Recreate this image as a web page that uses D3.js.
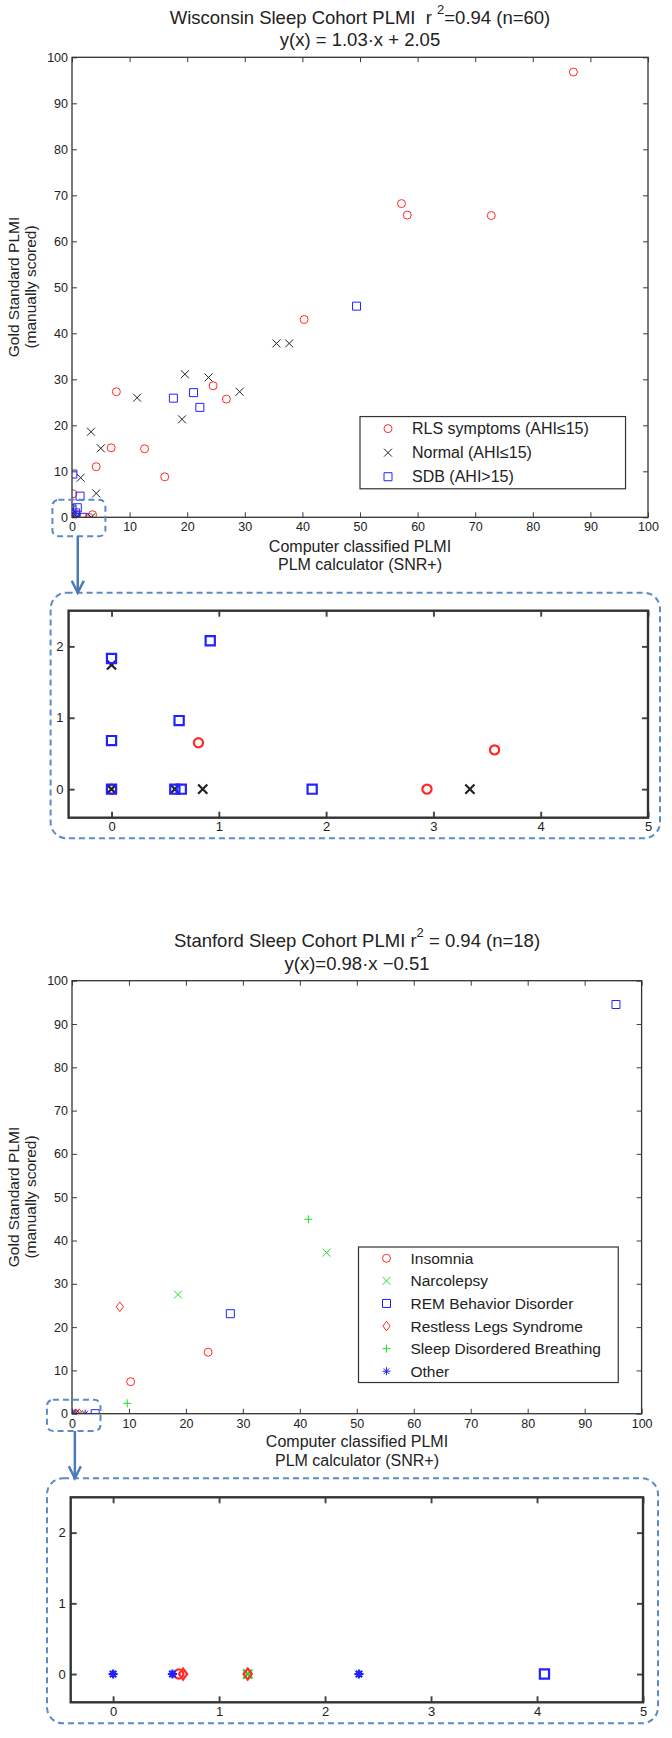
<!DOCTYPE html>
<html>
<head>
<meta charset="utf-8">
<script src="https://cdn.jsdelivr.net/npm/d3@7"></script>
<style>
body { margin: 0; background: #fff; }
svg { display: block; }
text { font-family: "Liberation Sans", Arial, sans-serif; fill: #222; }
</style>
</head>
<body>
<div id="chart"></div>
<script>
// Wisconsin cohort: [computer classified PLMI, gold standard PLMI]
var wiscRls = [[87.05, 96.8], [57.2, 68.2], [58.2, 65.7], [72.8, 65.6], [40.3, 43.0], [24.5, 28.6],
    [26.8, 25.7], [7.7, 27.3], [6.8, 15.1], [12.6, 14.9], [4.2, 11.0], [16.1, 8.8], [0.15, 5.1],
    [0.81, 0.65], [2.94, 0], [3.57, 0.55], [0, 0]];
var wiscNormal = [[35.5, 37.8], [37.7, 37.8], [19.6, 31.1], [23.7, 30.4], [29.1, 27.3], [11.3, 26.0],
    [19.1, 21.3], [3.3, 18.6], [5.0, 15.0], [1.5, 8.6], [4.2, 5.2],
    [0, 1.74], [0, 0], [0.59, 0], [0.85, 0], [3.34, 0]];
var wiscSdb = [[49.4, 45.9], [17.6, 25.9], [21.1, 27.1], [22.2, 23.9], [0.15, 9.4], [1.4, 4.6],
    [0, 1.83], [0.92, 2.08], [0.63, 0.96], [0, 0.68], [0, 0], [0.59, 0], [0.65, 0], [1.87, 0]];

// Stanford cohort
var stanInsomnia = [[23.9, 14.2], [10.3, 7.4], [0.62, 0]];
var stanNarcolepsy = [[44.7, 37.2], [18.6, 27.5], [1.27, 0]];
var stanRbd = [[95.5, 94.5], [27.8, 23.1], [4.07, 0]];
var stanRls = [[8.4, 24.7], [0.66, 0], [1.27, 0]];
var stanSdb = [[41.5, 44.9], [9.7, 2.4]];
var stanOther = [[0, 0], [0.56, 0], [2.32, 0]];

var wiscLabels = ["RLS symptoms (AHI\u226415)", "Normal (AHI\u226415)", "SDB (AHI>15)"];
var stanLabels = ["Insomnia", "Narcolepsy", "REM Behavior Disorder", "Restless Legs Syndrome",
    "Sleep Disordered Breathing", "Other"];

var mainTicks = [0, 10, 20, 30, 40, 50, 60, 70, 80, 90, 100];
var zoomXTicks = [0, 1, 2, 3, 4, 5];
var zoomYTicks = [0, 1, 2];

var W = 672, H = 1738;
var svg = d3.select("#chart").append("svg").attr("width", W).attr("height", H);

var RED = "#ff2a2a", BLUE = "#2222ff", BLACK = "#222", GREEN = "#22dd22", BOX = "#5b8bc8";

function markerPath(shape, s) {
    switch (shape) {
        case "x": return "M" + -s + "," + -s + "L" + s + "," + s + "M" + -s + "," + s + "L" + s + "," + -s;
        case "plus": return "M" + -s + ",0L" + s + ",0M0," + -s + "L0," + s;
        case "diamond": return "M0," + -s * 1.2 + "L" + s * 0.9 + ",0L0," + s * 1.2 + "L" + -s * 0.9 + ",0Z";
        case "square": return "M" + -s + "," + -s + "H" + s + "V" + s + "H" + -s + "Z";
        case "star":
            var d = s * 0.7;
            return "M" + -s + ",0L" + s + ",0M0," + -s + "L0," + s +
                "M" + -d + "," + -d + "L" + d + "," + d + "M" + -d + "," + d + "L" + d + "," + -d;
        default: // circle
            return "M" + s + ",0A" + s + "," + s + " 0 1,1 " + -s + ",0A" + s + "," + s + " 0 1,1 " + s + ",0Z";
    }
}

function drawMarkers(g, data, x, y, shape, color, size, sw) {
    g.selectAll(null).data(data).enter().append("path")
        .attr("transform", function(d) { return "translate(" + x(d[0]) + "," + y(d[1]) + ")"; })
        .attr("d", markerPath(shape, size))
        .attr("fill", "none")
        .attr("stroke", color)
        .attr("stroke-width", sw);
}

var clipId = 0;
function panel(p) {
    var x = d3.scaleLinear().domain(p.xd).range([p.left, p.right]);
    var y = d3.scaleLinear().domain(p.yd).range([p.bottom, p.top]);
    var g = svg.append("g");
    var tl = p.tick, fs = p.fontSize;

    var bottom = g.append("g").attr("transform", "translate(0," + p.bottom + ")")
        .call(d3.axisBottom(x).tickValues(p.xt).tickSize(-tl).tickPadding(p.xpad).tickFormat(d3.format("d")));
    var top = g.append("g").attr("transform", "translate(0," + p.top + ")")
        .call(d3.axisTop(x).tickValues(p.xt).tickSize(-tl).tickFormat(""));
    var left = g.append("g").attr("transform", "translate(" + p.left + ",0)")
        .call(d3.axisLeft(y).tickValues(p.yt).tickSize(-tl).tickPadding(p.ypad).tickFormat(d3.format("d")));
    var right = g.append("g").attr("transform", "translate(" + p.right + ",0)")
        .call(d3.axisRight(y).tickValues(p.yt).tickSize(-tl).tickFormat(""));
    [bottom, top, left, right].forEach(function(a) {
        a.select(".domain").remove();
        a.selectAll("line").attr("stroke", "#444").attr("stroke-width", p.frameW * 0.8);
        a.selectAll("text").attr("fill", "#222").style("font-size", fs + "px")
            .style("font-family", "'Liberation Sans', Arial, sans-serif");
    });

    var cid = "clip" + (clipId++);
    g.append("clipPath").attr("id", cid).append("rect")
        .attr("x", p.left).attr("y", p.top)
        .attr("width", p.right - p.left).attr("height", p.bottom - p.top);
    var marks = g.append("g").attr("clip-path", "url(#" + cid + ")");
    p.series.forEach(function(s) {
        drawMarkers(marks, s.data, x, y, s.shape, s.color, p.msize, p.msw);
    });

    g.append("rect").attr("x", p.left).attr("y", p.top)
        .attr("width", p.right - p.left).attr("height", p.bottom - p.top)
        .attr("fill", "none").attr("stroke", "#333").attr("stroke-width", p.frameW);
    return {g: g, x: x, y: y};
}

function titleLines(cx, y1, y2, pre, post, line2) {
    var t = svg.append("text").attr("x", cx).attr("y", y1)
        .attr("text-anchor", "middle").attr("dominant-baseline", "central")
        .style("font-size", "18.5px").style("white-space", "pre");
    t.append("tspan").text(pre);
    t.append("tspan").attr("dy", -8).style("font-size", "13px").text("2");
    t.append("tspan").attr("dy", 8).text(post);
    svg.append("text").attr("x", cx).attr("y", y2)
        .attr("text-anchor", "middle").attr("dominant-baseline", "central")
        .style("font-size", "18.5px").text(line2);
}

function axisLabels(cx, cy, xl1, xl2) {
    svg.append("text").attr("x", cx).attr("y", xl1).attr("text-anchor", "middle")
        .attr("dominant-baseline", "central").style("font-size", "16px").text("Computer classified PLMI");
    svg.append("text").attr("x", cx).attr("y", xl2).attr("text-anchor", "middle")
        .attr("dominant-baseline", "central").style("font-size", "16px").text("PLM calculator (SNR+)");
    svg.append("text").attr("transform", "translate(13," + cy + ") rotate(-90)")
        .attr("text-anchor", "middle").attr("dominant-baseline", "central")
        .style("font-size", "15.5px").text("Gold Standard PLMI");
    svg.append("text").attr("transform", "translate(30," + cy + ") rotate(-90)")
        .attr("text-anchor", "middle").attr("dominant-baseline", "central")
        .style("font-size", "15.5px").text("(manually scored)");
}

function legend(pn, box, labels, shapes, colors, fs) {
    var x0 = pn.x(box[0]), x1 = pn.x(box[1]), y0 = pn.y(box[2]), y1 = pn.y(box[3]);
    pn.g.append("rect").attr("x", x0).attr("y", y0).attr("width", x1 - x0).attr("height", y1 - y0)
        .attr("fill", "#fff").attr("stroke", "#333").attr("stroke-width", 1.2);
    var step = (y1 - y0) / labels.length;
    labels.forEach(function(l, i) {
        var cy = y0 + step * (i + 0.5);
        pn.g.append("path").attr("transform", "translate(" + (x0 + 28) + "," + cy + ")")
            .attr("d", markerPath(shapes[i], 4)).attr("fill", "none")
            .attr("stroke", colors[i]).attr("stroke-width", 1);
        pn.g.append("text").attr("x", x0 + 52).attr("y", cy).attr("dominant-baseline", "central")
            .style("font-size", fs + "px").text(l);
    });
}

function roundBox(pn, xd, yd, r) {
    var a = pn.x(xd[0]), b = pn.x(xd[1]), c = pn.y(yd[1]), d = pn.y(yd[0]);
    svg.append("rect").attr("x", a).attr("y", c).attr("width", b - a).attr("height", d - c)
        .attr("rx", r).attr("ry", r).attr("fill", "none")
        .attr("stroke", BOX).attr("stroke-width", 2).attr("stroke-dasharray", "6,4");
    return {l: a, r: b, t: c, b: d};
}

function arrow(xp, y0, y1) {
    svg.append("line").attr("x1", xp).attr("x2", xp).attr("y1", y0).attr("y2", y1 - 1)
        .attr("stroke", "#4a7ab8").attr("stroke-width", 2.5);
    svg.append("path").attr("d", "M" + (xp - 6) + "," + (y1 - 12) + "L" + xp + "," + y1 + "L" + (xp + 6) + "," + (y1 - 12))
        .attr("fill", "none").attr("stroke", "#4a7ab8").attr("stroke-width", 2.5);
}

// ---------- Wisconsin ----------
var wiscSeries = [
    {data: wiscRls, shape: "circle", color: RED},
    {data: wiscNormal, shape: "x", color: BLACK},
    {data: wiscSdb, shape: "square", color: BLUE}
];
var p1 = panel({left: 72, right: 648, top: 57.3, bottom: 517.3, xd: [0, 100], yd: [0, 100],
    xt: mainTicks, yt: mainTicks, tick: 5, fontSize: 12.5, xpad: 5, ypad: 4, frameW: 1.3,
    msize: 4, msw: 1, series: wiscSeries});
titleLines(360, 16.7, 39.3, "Wisconsin Sleep Cohort PLMI  r ", "=0.94 (n=60)", "y(x) = 1.03\u00b7x + 2.05");
axisLabels(360, 287, 546.7, 564);
legend(p1, [50, 96.1, 21.9, 6.2], wiscLabels, ["circle", "x", "square"], [RED, BLACK, BLUE], 16);
var zb1 = roundBox(p1, [-3.4, 5.8], [-4.1, 3.8], 6);

var i1 = panel({left: 68.6, right: 648, top: 610.7, bottom: 817.7, xd: [-0.4, 5], yd: [-0.4, 2.5],
    xt: zoomXTicks, yt: zoomYTicks, tick: 6, fontSize: 13, xpad: 4, ypad: 5, frameW: 2.4,
    msize: 4.6, msw: 2.2, series: wiscSeries});
var ib1 = {l: 50.6, r: 660, t: 592.7, b: 838.3};
svg.append("rect").attr("x", ib1.l).attr("y", ib1.t).attr("width", ib1.r - ib1.l).attr("height", ib1.b - ib1.t)
    .attr("rx", 16).attr("ry", 16).attr("fill", "none")
    .attr("stroke", BOX).attr("stroke-width", 2).attr("stroke-dasharray", "6,4");
arrow(p1.x(1), zb1.b, ib1.t);

// ---------- Stanford ----------
var stanSeries = [
    {data: stanInsomnia, shape: "circle", color: RED},
    {data: stanNarcolepsy, shape: "x", color: GREEN},
    {data: stanRbd, shape: "square", color: BLUE},
    {data: stanRls, shape: "diamond", color: RED},
    {data: stanSdb, shape: "plus", color: GREEN},
    {data: stanOther, shape: "star", color: BLUE}
];
var p2 = panel({left: 72, right: 641.6, top: 980.7, bottom: 1413.7, xd: [0, 100], yd: [0, 100],
    xt: mainTicks, yt: mainTicks, tick: 5, fontSize: 12.5, xpad: 5, ypad: 4, frameW: 1.3,
    msize: 4, msw: 1, series: stanSeries});
titleLines(357, 940, 963.3, "Stanford Sleep Cohort PLMI r", " = 0.94 (n=18)", "y(x)=0.98\u00b7x \u22120.51");
axisLabels(357, 1197, 1441.7, 1460);
legend(p2, [50.3, 95.9, 38.5, 7.2], stanLabels, ["circle", "x", "square", "diamond", "plus", "star"],
    [RED, GREEN, BLUE, RED, GREEN, BLUE], 15.5);
var zb2 = roundBox(p2, [-4.4, 5], [-4, 3.2], 6);

var i2 = panel({left: 70.7, right: 643, top: 1497.3, bottom: 1702.3, xd: [-0.4, 5], yd: [-0.4, 2.5],
    xt: zoomXTicks, yt: zoomYTicks, tick: 6, fontSize: 13, xpad: 4, ypad: 5, frameW: 2.4,
    msize: 4.6, msw: 2.2, series: stanSeries});
var ib2 = {l: 47, r: 658, t: 1478.3, b: 1723.3};
svg.append("rect").attr("x", ib2.l).attr("y", ib2.t).attr("width", ib2.r - ib2.l).attr("height", ib2.b - ib2.t)
    .attr("rx", 16).attr("ry", 16).attr("fill", "none")
    .attr("stroke", BOX).attr("stroke-width", 2).attr("stroke-dasharray", "6,4");
arrow(p2.x(0.5), zb2.b, ib2.t);
</script>
</body>
</html>
